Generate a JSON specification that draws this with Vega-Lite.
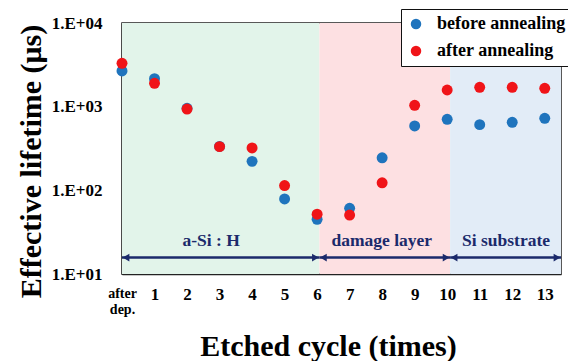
{
  "$schema": "https://vega.github.io/schema/vega-lite/v6.json",
  "width": 439,
  "height": 251,
  "autosize": {"type": "none"},
  "padding": {"left": 122, "top": 23, "right": 7, "bottom": 87},
  "background": "white",
  "config": {
    "view": {"stroke": "#222", "strokeWidth": 1.5},
    "font": "Liberation Serif",
    "axis": {"labelOverlap": false, "labelBound": false, "labelFlush": false, "grid": false}
  },
  "datasets": {
    "regions": [
      {"region": "a-Si : H", "start": 0, "end": 6.07, "mid": 2.74},
      {"region": "damage layer", "start": 6.07, "end": 10.09, "mid": 7.99},
      {"region": "Si substrate", "start": 10.09, "end": 13.5, "mid": 11.81}
    ],
    "points": [
      {"cycle": 0, "series": "before annealing", "lifetime": 2670},
      {"cycle": 1, "series": "before annealing", "lifetime": 2160},
      {"cycle": 2, "series": "before annealing", "lifetime": 955},
      {"cycle": 3, "series": "before annealing", "lifetime": 335},
      {"cycle": 4, "series": "before annealing", "lifetime": 222},
      {"cycle": 5, "series": "before annealing", "lifetime": 79},
      {"cycle": 6, "series": "before annealing", "lifetime": 45},
      {"cycle": 7, "series": "before annealing", "lifetime": 61},
      {"cycle": 8, "series": "before annealing", "lifetime": 245},
      {"cycle": 9, "series": "before annealing", "lifetime": 588},
      {"cycle": 10, "series": "before annealing", "lifetime": 706},
      {"cycle": 11, "series": "before annealing", "lifetime": 610},
      {"cycle": 12, "series": "before annealing", "lifetime": 650},
      {"cycle": 13, "series": "before annealing", "lifetime": 726},
      {"cycle": 0, "series": "after annealing", "lifetime": 3300},
      {"cycle": 1, "series": "after annealing", "lifetime": 1900},
      {"cycle": 2, "series": "after annealing", "lifetime": 937},
      {"cycle": 3, "series": "after annealing", "lifetime": 333},
      {"cycle": 4, "series": "after annealing", "lifetime": 321},
      {"cycle": 5, "series": "after annealing", "lifetime": 114},
      {"cycle": 6, "series": "after annealing", "lifetime": 51.8},
      {"cycle": 7, "series": "after annealing", "lifetime": 50.7},
      {"cycle": 8, "series": "after annealing", "lifetime": 123},
      {"cycle": 9, "series": "after annealing", "lifetime": 1038},
      {"cycle": 10, "series": "after annealing", "lifetime": 1582},
      {"cycle": 11, "series": "after annealing", "lifetime": 1703},
      {"cycle": 12, "series": "after annealing", "lifetime": 1703},
      {"cycle": 13, "series": "after annealing", "lifetime": 1656}
    ]
  },
  "layer": [
    {
      "data": {"name": "regions"},
      "mark": {"type": "rect"},
      "encoding": {
        "x": {"field": "start", "type": "quantitative", "scale": {"domain": [0, 13.5], "nice": false, "zero": false},
          "axis": {
            "values": [0,1,2,3,4,5,6,7,8,9,10,11,12,13],
            "tickCount": 14,
            "labelExpr": "datum.value == 0 ? ['after', 'dep.'] : '' + datum.value",
            "labelFont": "Liberation Serif",
            "labelFontWeight": "bold",
            "labelFontSize": {"condition": {"test": "datum.value == 0", "value": 14}, "value": 17},
            "labelColor": "black",
            "labelLineHeight": 16,
            "labelPadding": 16,
            "labelBaseline": "top",
            "labelOverlap": false,
            "labelBound": false,
            "labelFlush": false,
            "tickSize": -4,
            "tickColor": "#222",
            "tickWidth": 1,
            "domainColor": "#222",
            "domainWidth": 1.5,
            "grid": false,
            "title": "Etched cycle (times)",
            "titleFont": "Liberation Serif",
            "titleFontWeight": "bold",
            "titleFontSize": 30,
            "titleColor": "black",
            "titleX": 206,
            "titleY": 72,
            "titleBaseline": "middle",
            "titleAlign": "center"
          }
        },
        "x2": {"field": "end"},
        "y": {"datum": 10, "type": "quantitative", "scale": {"type": "log", "domain": [10, 10000], "nice": false},
          "axis": {
            "values": [10,20,30,40,50,60,70,80,90,100,200,300,400,500,600,700,800,900,1000,2000,3000,4000,5000,6000,7000,8000,9000,10000],
            "tickCount": 28,
            "labelExpr": "datum.value == 10 ? '1.E+01' : datum.value == 100 ? '1.E+02' : datum.value == 1000 ? '1.E+03' : datum.value == 10000 ? '1.E+04' : ''",
            "labelFont": "Liberation Serif",
            "labelFontWeight": "bold",
            "labelFontSize": 17,
            "labelColor": "black",
            "labelPadding": 26,
            "labelOverlap": false,
            "labelBound": false,
            "tickSize": {"condition": {"test": "datum.value == 10 || datum.value == 100 || datum.value == 1000 || datum.value == 10000", "value": -6}, "value": -4},
            "tickColor": "#222",
            "tickWidth": 1,
            "domainColor": "#222",
            "domainWidth": 1.5,
            "grid": false,
            "title": "Effective lifetime (μs)",
            "titleFont": "Liberation Serif",
            "titleFontWeight": "bold",
            "titleFontSize": 30,
            "titleColor": "black",
            "titleX": -91,
            "titleY": 138,
            "titleAngle": -90,
            "titleBaseline": "middle",
            "titleAlign": "center"
          }
        },
        "y2": {"datum": 10000},
        "fill": {"field": "region", "type": "nominal",
          "scale": {"domain": ["a-Si : H", "damage layer", "Si substrate"], "range": ["#E2F4EA", "#FDE0E2", "#E2ECF7"]},
          "legend": null}
      }
    },
    {
      "data": {"name": "regions"},
      "mark": {"type": "rule", "color": "#1B2A6B", "strokeWidth": 2.5},
      "encoding": {
        "x": {"field": "start", "type": "quantitative"},
        "x2": {"field": "end"},
        "y": {"datum": 15.7, "type": "quantitative"}
      }
    },
    {
      "data": {"name": "regions"},
      "mark": {"type": "point", "shape": "triangle-left", "filled": true, "color": "#1B2A6B", "size": 60, "opacity": 1, "xOffset": 4},
      "encoding": {
        "x": {"field": "start", "type": "quantitative"},
        "y": {"datum": 15.7, "type": "quantitative"}
      }
    },
    {
      "data": {"name": "regions"},
      "mark": {"type": "point", "shape": "triangle-right", "filled": true, "color": "#1B2A6B", "size": 60, "opacity": 1, "xOffset": -4},
      "encoding": {
        "x": {"field": "end", "type": "quantitative"},
        "y": {"datum": 15.7, "type": "quantitative"}
      }
    },
    {
      "data": {"name": "regions"},
      "mark": {"type": "text", "font": "Liberation Serif", "fontWeight": "bold", "fontSize": 17.5, "color": "#1B2A6B", "baseline": "middle", "align": "center"},
      "encoding": {
        "x": {"field": "mid", "type": "quantitative"},
        "y": {"datum": 25, "type": "quantitative"},
        "text": {"field": "region"}
      }
    },
    {
      "data": {"name": "points"},
      "mark": {"type": "point", "shape": "circle", "filled": true, "opacity": 1, "size": 120},
      "encoding": {
        "x": {"field": "cycle", "type": "quantitative"},
        "y": {"field": "lifetime", "type": "quantitative"},
        "color": {"field": "series", "type": "nominal",
          "scale": {"domain": ["before annealing", "after annealing"], "range": ["#1F74BD", "#F01418"]},
          "legend": {
            "title": null,
            "orient": "none",
            "legendX": 279,
            "legendY": -14,
            "direction": "vertical",
            "fillColor": "white",
            "strokeColor": "#111",
            "padding": 6,
            "rowPadding": 9,
            "symbolType": "circle",
            "symbolSize": 110,
            "symbolOpacity": 1,
            "labelFont": "Liberation Serif",
            "labelFontWeight": "bold",
            "labelFontSize": 18,
            "labelColor": "black",
            "labelOffset": 12,
            "labelLimit": 300
          }
        }
      }
    }
  ]
}
